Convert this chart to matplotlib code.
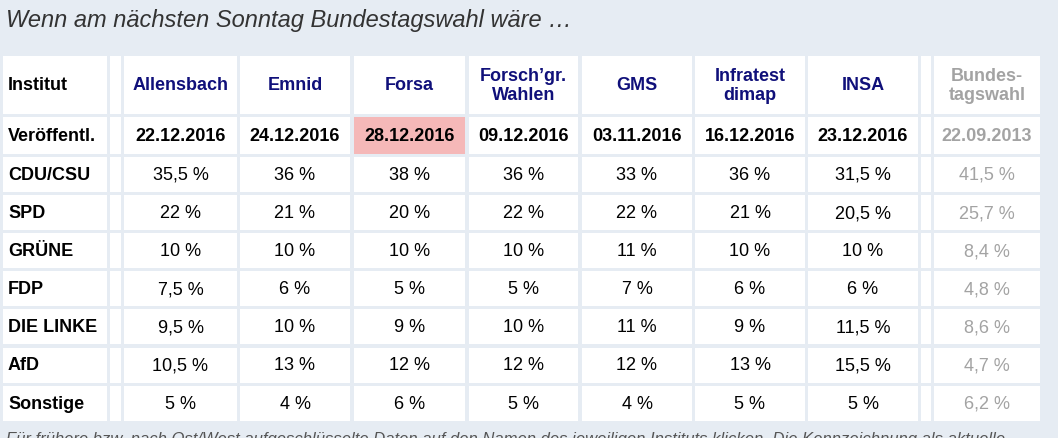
import matplotlib.pyplot as plt
from matplotlib.patches import Rectangle

plt.rcParams['font.family'] = ['Liberation Sans', 'DejaVu Sans']

title = "Wenn am nächsten Sonntag Bundestagswahl wäre …"
institutes = ["Allensbach", "Emnid", "Forsa", "Forsch’gr.\nWahlen", "GMS", "Infratest\ndimap", "INSA"]
dates = ["22.12.2016", "24.12.2016", "28.12.2016", "09.12.2016", "03.11.2016", "16.12.2016", "23.12.2016"]
parties = ["CDU/CSU", "SPD", "GRÜNE", "FDP", "DIE LINKE", "AfD", "Sonstige"]
values = [
    ["35,5 %", "36 %", "38 %", "36 %", "33 %", "36 %", "31,5 %"],
    ["22 %", "21 %", "20 %", "22 %", "22 %", "21 %", "20,5 %"],
    ["10 %", "10 %", "10 %", "10 %", "11 %", "10 %", "10 %"],
    ["7,5 %", "6 %", "5 %", "5 %", "7 %", "6 %", "6 %"],
    ["9,5 %", "10 %", "9 %", "10 %", "11 %", "9 %", "11,5 %"],
    ["10,5 %", "13 %", "12 %", "12 %", "12 %", "13 %", "15,5 %"],
    ["5 %", "4 %", "6 %", "5 %", "4 %", "5 %", "5 %"],
]
btw_head = "Bundes-\ntagswahl"
btw_date = "22.09.2013"
btw_values = ["41,5 %", "25,7 %", "8,4 %", "4,8 %", "8,6 %", "4,7 %", "6,2 %"]
footer = "Für frühere bzw. nach Ost/West aufgeschlüsselte Daten auf den Namen des jeweiligen Instituts klicken. Die Kennzeichnung als aktuelle"

bg = '#e6ecf3'
navy = '#10107a'
grey = '#a3a3a3'

fig = plt.figure(figsize=(10.58, 4.39), dpi=100, facecolor=bg)
ax = fig.add_axes([0, 0, 1, 1])
ax.set_xlim(0, 1058)
ax.set_ylim(439, 0)
ax.axis('off')

ax.text(6, 20, title, fontsize=17, style='italic', color='#333333', va='center')

# column edges (left, right)
cols = [(3, 107), (110, 121), (124, 237), (240, 350), (354, 465), (469, 578),
        (582, 692), (695, 805), (808, 918), (921, 931), (934, 1040)]
rows = [(57, 115), (118, 155)] + [(158 + 38.1 * i, 193 + 38.1 * i) for i in range(7)]

for (y0, y1) in rows:
    for (x0, x1) in cols:
        ax.add_patch(Rectangle((x0, y0), x1 - x0, y1 - y0, fc='white', ec='none'))

def cx(i):
    return (cols[i][0] + cols[i][1]) / 2

def cy(r):
    return (rows[r][0] + rows[r][1]) / 2

ax.text(8, cy(0), "Institut", fontsize=13, weight='bold', va='center')
for j, name in enumerate(institutes):
    ax.text(cx(j + 2), cy(0), name, fontsize=13, weight='bold', color=navy,
            ha='center', va='center', linespacing=1.15)
ax.text(cx(10), cy(0), btw_head, fontsize=13, weight='bold', color=grey,
        ha='center', va='center', linespacing=1.15)

ax.text(8, cy(1), "Veröffentl.", fontsize=13, weight='bold', va='center')
for j, d in enumerate(dates):
    if j == 2:
        ax.add_patch(Rectangle((cols[4][0], rows[1][0]), cols[4][1] - cols[4][0],
                               rows[1][1] - rows[1][0], fc='#f5b8b8', ec='none'))
    ax.text(cx(j + 2), cy(1), d, fontsize=13, weight='bold', ha='center', va='center')
ax.text(cx(10), cy(1), btw_date, fontsize=13, weight='bold', color=grey, ha='center', va='center')

for i, p in enumerate(parties):
    ax.text(8, cy(i + 2), p, fontsize=13, weight='bold', va='center')
    for j, v in enumerate(values[i]):
        ax.text(cx(j + 2), cy(i + 2), v, fontsize=13, ha='center', va='center')
    ax.text(cx(10), cy(i + 2), btw_values[i], fontsize=13, color=grey, ha='center', va='center')

ax.text(6, 440, footer, fontsize=12, style='italic', color='#555555', va='center', clip_on=True)

fig.savefig('out.png', dpi=100, facecolor=bg)
